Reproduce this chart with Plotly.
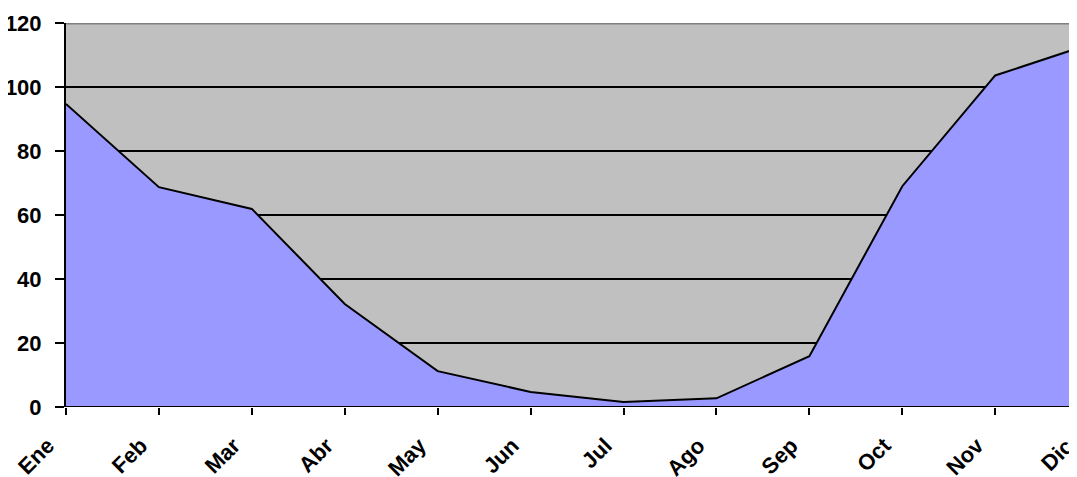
import plotly.graph_objects as go

months = ["Ene", "Feb", "Mar", "Abr", "May", "Jun", "Jul", "Ago", "Sep", "Oct", "Nov", "Dic"]
values = [94.7, 68.7, 61.9, 32.2, 11.2, 4.7, 1.6, 2.7, 15.9, 69.0, 103.6, 113.2]
y_ticks = [0, 20, 40, 60, 80, 100, 120]

x_idx = list(range(len(months)))
x_range = [0, 10.88]

font = dict(family="Liberation Sans, Arial, sans-serif", size=22, color="black", weight="bold")
xfont = dict(family="Liberation Sans, Arial, sans-serif", size=22, color="black", weight="bold")

fig = go.Figure()
fig.add_trace(go.Scatter(
    x=x_idx, y=values, mode="lines", fill="tozeroy",
    fillcolor="#9999FF", line=dict(color="black", width=2),
    hoverinfo="skip", showlegend=False,
))

fig.update_layout(
    width=1069, height=469,
    margin=dict(l=58, r=0, t=15, b=70, autoexpand=False),
    paper_bgcolor="white", plot_bgcolor="#C0C0C0",
    font=font,
    xaxis=dict(
        range=x_range, tickmode="array", tickvals=x_idx, ticktext=months,
        tickangle=-45, ticks="outside", ticklen=7, tickwidth=2, tickcolor="black",
        showgrid=False, zeroline=False, showline=False, tickfont=xfont,
        ticklabelstandoff=9, ticklabelshift=-18, automargin=False,
    ),
    yaxis=dict(
        range=[0, 120], tickvals=y_ticks, ticks="outside", ticklen=9, tickwidth=2,
        tickcolor="black", showgrid=True, gridcolor="black", gridwidth=1.5,
        showline=True, linecolor="black", linewidth=2, zeroline=False,
        tickfont=font, ticklabelstandoff=9, automargin=False,
    ),
    shapes=[
        dict(type="line", xref="paper", yref="y", x0=0, x1=1, y0=120, y1=120,
             line=dict(color="#808080", width=3)),
        dict(type="line", xref="paper", yref="y", x0=0, x1=1, y0=0, y1=0,
             line=dict(color="black", width=2)),
    ],
    annotations=[
        dict(x=(x_idx[-1] - x_range[0]) / (x_range[1] - x_range[0]), xref="paper",
             y=0, yref="y", text=months[-1], showarrow=False, textangle=-45,
             xanchor="right", yanchor="top", xshift=-7, yshift=-24, font=xfont),
    ],
)

fig.write_html("out.html")
